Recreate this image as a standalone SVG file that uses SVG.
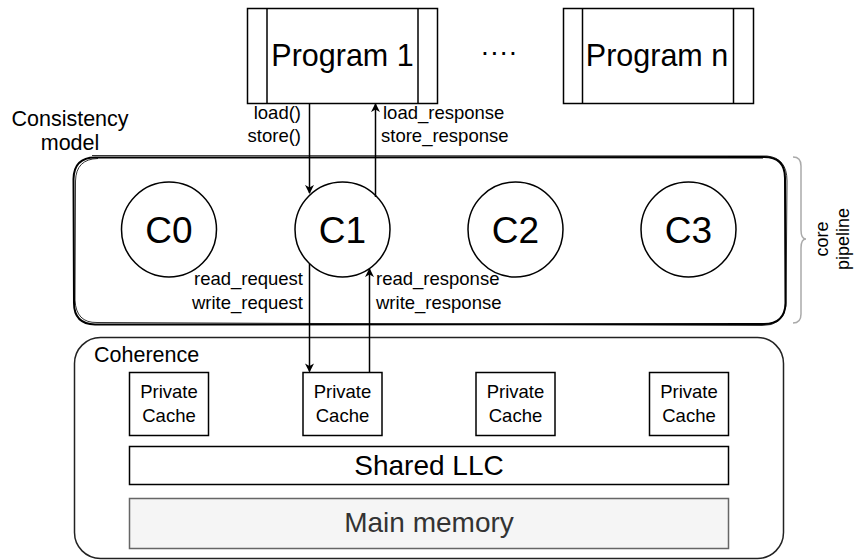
<svg xmlns="http://www.w3.org/2000/svg" width="855" height="560" viewBox="0 0 855 560">
  <style>
    text { font-family: "Liberation Sans", Arial, sans-serif; fill: #000; }
    .box { fill: #fff; stroke: #000; stroke-width: 1.5; }
    .core { fill: #fff; stroke: #000; stroke-width: 1.5; }
    .lbl { font-size: 18.5px; }
    .mid { text-anchor: middle; }
    .end { text-anchor: end; }
    .wire { stroke: #000; stroke-width: 1.5; fill: none; }
  </style>
  <defs>
    <marker id="arrow" viewBox="0 0 10 10" refX="9" refY="5" markerWidth="9" markerHeight="9" markerUnits="userSpaceOnUse" orient="auto">
      <path d="M0,0 L10,5 L0,10 L3,5 Z" fill="#000"/>
    </marker>
  </defs>

  <rect width="855" height="560" fill="#fff"/>

  <!-- programs -->
  <g id="program1">
    <rect class="box" x="247.5" y="8.5" width="190" height="95"/>
    <line class="wire" x1="267" y1="8.5" x2="267" y2="103.5"/>
    <line class="wire" x1="418" y1="8.5" x2="418" y2="103.5"/>
    <text class="mid" x="342.5" y="66" font-size="30.5">Program 1</text>
  </g>
  <g id="ellipsis">
    <text class="mid" x="499" y="61" font-size="28">····</text>
  </g>
  <g id="programN">
    <rect class="box" x="563.5" y="8.5" width="190" height="95"/>
    <line class="wire" x1="582.5" y1="8.5" x2="582.5" y2="103.5"/>
    <line class="wire" x1="733.5" y1="8.5" x2="733.5" y2="103.5"/>
    <text class="mid" x="657" y="66" font-size="30.5">Program n</text>
  </g>

  <!-- consistency model label -->
  <g id="consistency-label">
    <text class="mid" x="70" y="126" font-size="21.5">Consistency</text>
    <text class="mid" x="70" y="150" font-size="21.5">model</text>
  </g>

  <!-- core pipeline frame (hand-drawn look) -->
  <g id="core-pipeline">
    <path d="M95,157.5 L764,157 Q785,157 785,178 L785.5,303 Q785,324 764,324 L95,324.5 Q74,324 74,303 L73.5,179 Q74,157.5 95,157.5 Z" fill="none" stroke="#000" stroke-width="2"/>
    <path d="M92,155.5 L767,156 Q787,158 787,181 L786,306 Q783,326 762,325.5 L97,322.5 Q76,323 75,300 L75.5,181 Q76,159 98,158.5" fill="none" stroke="#000" stroke-width="1" opacity="0.8"/>
  </g>

  <!-- cores -->
  <g id="C0">
    <circle class="core" cx="169" cy="229.5" r="47.5"/>
    <text class="mid" x="169" y="243" font-size="37">C0</text>
  </g>
  <g id="C1">
    <circle class="core" cx="342.5" cy="229.5" r="47.5"/>
    <text class="mid" x="342.5" y="243" font-size="37">C1</text>
  </g>
  <g id="C2">
    <circle class="core" cx="515.5" cy="229.5" r="47.5"/>
    <text class="mid" x="515.5" y="243" font-size="37">C2</text>
  </g>
  <g id="C3">
    <circle class="core" cx="688.5" cy="229.5" r="47.5"/>
    <text class="mid" x="688.5" y="243" font-size="37">C3</text>
  </g>

  <!-- brace and its label -->
  <g id="core-pipeline-brace">
    <path d="M793,157 Q801,157 801,166 L801,230 Q801,239 806,239 Q801,239 801,248 L801,314 Q801,323 793,323" fill="none" stroke="#aaa" stroke-width="1.5"/>
    <text class="mid" font-size="18" transform="translate(828,239) rotate(-90)">core</text>
    <text class="mid" font-size="18" transform="translate(849,239) rotate(-90)">pipeline</text>
  </g>

  <!-- coherence -->
  <g id="coherence">
    <rect x="74.5" y="337.5" width="709" height="221" rx="26" ry="26" fill="#fff" stroke="#222" stroke-width="1.5"/>
    <text x="94" y="362" font-size="21.5">Coherence</text>
  </g>
  <g id="cache0">
    <rect class="box" x="129.5" y="372.5" width="79" height="63"/>
    <text class="mid lbl" x="169" y="398">Private</text>
    <text class="mid lbl" x="169" y="421.5">Cache</text>
  </g>
  <g id="cache1">
    <rect class="box" x="303" y="372.5" width="79" height="63"/>
    <text class="mid lbl" x="342.5" y="398">Private</text>
    <text class="mid lbl" x="342.5" y="421.5">Cache</text>
  </g>
  <g id="cache2">
    <rect class="box" x="476" y="372.5" width="79" height="63"/>
    <text class="mid lbl" x="515.5" y="398">Private</text>
    <text class="mid lbl" x="515.5" y="421.5">Cache</text>
  </g>
  <g id="cache3">
    <rect class="box" x="649.5" y="372.5" width="79" height="63"/>
    <text class="mid lbl" x="689" y="398">Private</text>
    <text class="mid lbl" x="689" y="421.5">Cache</text>
  </g>
  <g id="shared-llc">
    <rect class="box" x="129.5" y="446.5" width="599" height="38"/>
    <text class="mid" x="429" y="475" font-size="28">Shared LLC</text>
  </g>
  <g id="main-memory">
    <rect x="129.5" y="498.5" width="599" height="50" fill="#f5f5f5" stroke="#666" stroke-width="1.5"/>
    <text class="mid" x="429" y="532" font-size="28" style="fill:#333">Main memory</text>
  </g>

  <!-- connectors -->
  <g id="connectors">
    <line class="wire" x1="309.5" y1="103.5" x2="309.5" y2="193" marker-end="url(#arrow)"/>
    <line class="wire" x1="375.5" y1="197" x2="375.5" y2="104" marker-end="url(#arrow)"/>
    <line class="wire" x1="309.5" y1="264" x2="309.5" y2="371.5" marker-end="url(#arrow)"/>
    <line class="wire" x1="369.5" y1="372.5" x2="369.5" y2="269" marker-end="url(#arrow)"/>
  </g>

  <!-- connector labels -->
  <g id="connector-labels">
    <text class="end lbl" x="301" y="119">load()</text>
    <text class="end lbl" x="301" y="142">store()</text>
    <text class="lbl" x="383" y="119">load_response</text>
    <text class="lbl" x="381" y="142">store_response</text>
    <text class="end lbl" x="303" y="285">read_request</text>
    <text class="end lbl" x="303" y="309">write_request</text>
    <text class="lbl" x="376" y="285">read_response</text>
    <text class="lbl" x="376" y="309">write_response</text>
  </g>
</svg>
